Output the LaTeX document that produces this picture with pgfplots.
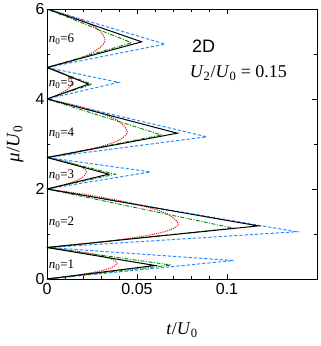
\documentclass[border=0pt]{standalone}
\usepackage{fontspec}
\setmainfont{Liberation Serif}
\setsansfont{Liberation Sans}
\usepackage{pgfplots}
\pgfplotsset{compat=1.18}

\definecolor{lobeblue}{RGB}{40,140,255}
\definecolor{lobegreen}{RGB}{0,140,0}
\definecolor{lobered}{RGB}{255,0,0}

\begin{document}
\begin{tikzpicture}
\begin{axis}[
  scale only axis,
  width=270pt,height=270pt,
  xmin=0,xmax=0.15,ymin=0,ymax=6,
  xtick={0,0.05,0.1},
  xticklabels={\textsf{0},\textsf{0.05},\textsf{0.1}},
  ytick={0,2,4,6},
  yticklabels={\textsf{0},\textsf{2},\textsf{4},\textsf{6}},
  minor x tick num=4,
  minor y tick num=1,
  tick align=inside,
  major tick length=5pt,
  minor tick length=3pt,
  tick style={black,line width=0.6pt},
  axis line style={line width=0.9pt},
  ticklabel style={font=\fontsize{16}{16}\selectfont},
  xticklabel style={yshift=-1pt},
  yticklabel style={xshift=1pt},
  xlabel={\textit{t}/\textit{U}\textsubscript{0}},
  ylabel={\textit{μ}/\textit{U}\textsubscript{0}},
  every axis x label/.style={at={(axis description cs:0.5,-0.19)},anchor=center,font=\fontsize{18}{18}\selectfont},
  every axis y label/.style={at={(axis description cs:-0.118,0.5)},anchor=center,rotate=90,font=\fontsize{19}{19}\selectfont},
  clip=true,
]
% mean-field lobes (red dotted)
\addplot[lobered,line width=1pt,dash pattern=on 1.1pt off 1.1pt,smooth] coordinates {
  (0,0) (0.0074,0.035) (0.0170,0.0875) (0.0271,0.1575) (0.0354,0.245) (0.0389,0.35)
  (0.0354,0.455) (0.0271,0.5425) (0.0170,0.6125) (0.0074,0.665) (0,0.7)
};
\addplot[lobered,line width=1pt,dash pattern=on 1.1pt off 1.1pt,smooth] coordinates {
  (0,0.7) (0.0139,0.752) (0.0319,0.83) (0.0509,0.934) (0.0664,1.064) (0.073,1.22)
  (0.0664,1.454) (0.0509,1.649) (0.0319,1.805) (0.0139,1.922) (0,2)
};
\addplot[lobered,line width=1pt,dash pattern=on 1.1pt off 1.1pt,smooth] coordinates {
  (0,2) (0.0042,2.038) (0.0096,2.095) (0.0153,2.171) (0.0199,2.266) (0.0219,2.38)
  (0.0199,2.476) (0.0153,2.556) (0.0096,2.62) (0.0042,2.668) (0,2.7)
};
\addplot[lobered,line width=1pt,dash pattern=on 1.1pt off 1.1pt,smooth] coordinates {
  (0,2.7) (0.0085,2.757) (0.0195,2.8425) (0.0311,2.9565) (0.0406,3.099) (0.0446,3.27)
  (0.0406,3.489) (0.0311,3.6715) (0.0195,3.8175) (0.0085,3.927) (0,4)
};
\addplot[lobered,line width=1pt,dash pattern=on 1.1pt off 1.1pt,smooth] coordinates {
  (0,4) (0.0026,4.038) (0.0061,4.095) (0.0097,4.171) (0.0127,4.266) (0.0139,4.38)
  (0.0127,4.476) (0.0097,4.556) (0.0061,4.62) (0.0026,4.668) (0,4.7)
};
\addplot[lobered,line width=1pt,dash pattern=on 1.1pt off 1.1pt,smooth] coordinates {
  (0,4.7) (0.0061,4.761) (0.0141,4.8525) (0.0225,4.9745) (0.0293,5.137) (0.0322,5.31)
  (0.0293,5.517) (0.0225,5.6895) (0.0141,5.8275) (0.0061,5.931) (0,6)
};
% blue dashed
\addplot[lobeblue,line width=1pt,dash pattern=on 3.2pt off 2pt] coordinates {
  (0,0) (0.1035,0.41) (0,0.7) (0.1387,1.05) (0,2) (0.0574,2.38) (0,2.7)
  (0.0887,3.16) (0,4) (0.0398,4.37) (0,4.7) (0.0656,5.22) (0,6)
};
% green dash-dot
\addplot[lobegreen,line width=0.9pt,dash pattern=on 4pt off 1.5pt on 1pt off 1.5pt] coordinates {
  (0,0) (0.069,0.31) (0,0.7) (0.1035,1.13) (0,2) (0.038,2.33) (0,2.7)
  (0.0637,3.20) (0,4) (0.025,4.33) (0,4.7) (0.047,5.25) (0,6)
};
% black solid
\addplot[black,line width=1pt] coordinates {
  (0,0) (0.060,0.30) (0,0.7) (0.1174,1.18) (0,2) (0.0343,2.33) (0,2.7)
  (0.0724,3.24) (0,4) (0.0231,4.33) (0,4.7) (0.0526,5.27) (0,6)
};
\node[anchor=west,inner sep=0,font=\fontsize{13}{13}\selectfont] at (axis cs:0.0009,0.31) {\textit{n}\textsubscript{0}=1};
\node[anchor=west,inner sep=0,font=\fontsize{13}{13}\selectfont] at (axis cs:0.0009,1.27) {\textit{n}\textsubscript{0}=2};
\node[anchor=west,inner sep=0,font=\fontsize{13}{13}\selectfont] at (axis cs:0.0009,2.31) {\textit{n}\textsubscript{0}=3};
\node[anchor=west,inner sep=0,font=\fontsize{13}{13}\selectfont] at (axis cs:0.0009,3.24) {\textit{n}\textsubscript{0}=4};
\node[anchor=west,inner sep=0,font=\fontsize{13}{13}\selectfont] at (axis cs:0.0009,4.34) {\textit{n}\textsubscript{0}=5};
\node[anchor=west,inner sep=0,font=\fontsize{13}{13}\selectfont] at (axis cs:0.0009,5.32) {\textit{n}\textsubscript{0}=6};
\node[anchor=west,inner sep=0,font=\sffamily\fontsize{18}{18}\selectfont] at (axis cs:0.0805,5.18) {2D};
\node[anchor=west,inner sep=0,font=\fontsize{18}{18}\selectfont] at (axis cs:0.0792,4.58) {\textit{U}\textsubscript{2}/\textit{U}\textsubscript{0} = 0.15};
\end{axis}
\pgfresetboundingbox
\path ([shift={(-47pt,-67pt)}]current axis.south west) rectangle ([shift={(4pt,9pt)}]current axis.north east);
\end{tikzpicture}
\end{document}
